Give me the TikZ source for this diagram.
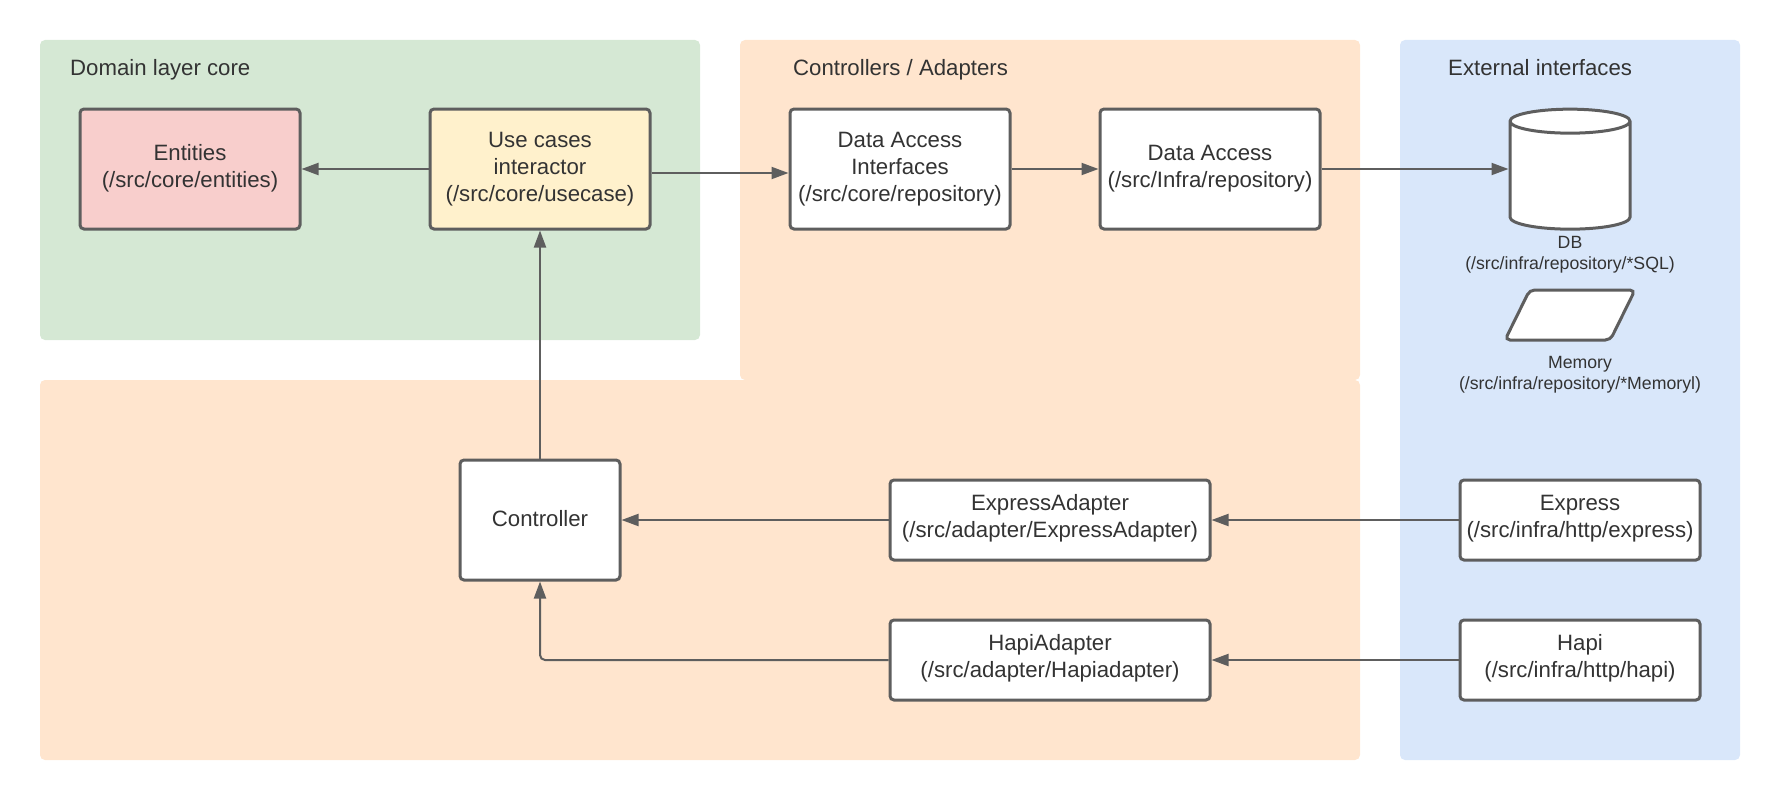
\documentclass[tikz,border=0pt]{standalone}
\usepackage{fontspec}
\setmainfont{Liberation Sans}
\usepackage{tikz}
\usetikzlibrary{arrows.meta,positioning,shapes.geometric}

\definecolor{panelgreen}{HTML}{D5E8D4}
\definecolor{panelorange}{HTML}{FFE5CE}
\definecolor{panelblue}{HTML}{D9E7FA}
\definecolor{entitypink}{HTML}{F8CECC}
\definecolor{caseyellow}{HTML}{FFF1CC}
\definecolor{linegray}{HTML}{5E5E5E}
\definecolor{textgray}{HTML}{333333}

\tikzset{
	panel/.style={shape=rectangle,rounded corners=5pt,inner sep=0pt},
	paneltitle/.style={anchor=base west,inner sep=0pt,text=textgray,font=\fontsize{22.2}{27}\selectfont},
	box/.style={shape=rectangle,draw=linegray,line width=3pt,rounded corners=4pt,fill=white,inner sep=0pt,align=center,text=textgray,text depth=8pt,font=\fontsize{22.2}{27}\selectfont},
	smalltext/.style={inner sep=0pt,align=center,text=textgray,font=\fontsize{17.7}{21}\selectfont},
	flow/.style={draw=linegray,line width=2pt,-{Triangle[length=17pt,width=12pt]}}
}

\begin{document}
\begin{tikzpicture}[x=1pt,y=-1pt]
	\useasboundingbox (0,0) rectangle (1780,800);
	% layers
	\path (370,190) node (domain) [panel,fill=panelgreen,minimum width=660pt,minimum height=300pt] {}
		  (1050,210) node (controllers) [panel,fill=panelorange,minimum width=620pt,minimum height=340pt] {}
		  (700,570) node (adapters) [panel,fill=panelorange,minimum width=1320pt,minimum height=380pt] {}
		  (1570,400) node (external) [panel,fill=panelblue,minimum width=340pt,minimum height=720pt] {};
	\path (70,75) node (domaintitle) [paneltitle] {Domain layer core}
		  (793,75) node (controllerstitle) [paneltitle] {Controllers / Adapters}
		  (1448,75) node (externaltitle) [paneltitle] {External interfaces};
	% boxes
	\path (190,169) node (entities) [box,text depth=6pt,fill=entitypink,minimum width=220pt,minimum height=120pt] {Entities\\(/src/core/entities)}
		  (540,169) node (usecases) [box,text depth=4pt,fill=caseyellow,minimum width=220pt,minimum height=120pt] {Use cases\\interactor\\(/src/core/usecase)}
		  (900,169) node (dainterfaces) [box,text depth=4pt,minimum width=220pt,minimum height=120pt] {Data Access\\Interfaces\\(/src/core/repository)}
		  (1210,169) node (daccess) [box,text depth=6pt,minimum width=220pt,minimum height=120pt] {Data Access\\(/src/Infra/repository)}
		  (540,520) node (controller) [box,text depth=4pt,minimum width=160pt,minimum height=120pt] {Controller}
		  (1050,520) node (expressadapter) [box,minimum width=320pt,minimum height=80pt] {ExpressAdapter\\(/src/adapter/ExpressAdapter)}
		  (1050,660) node (hapiadapter) [box,minimum width=320pt,minimum height=80pt] {HapiAdapter\\(/src/adapter/Hapiadapter)}
		  (1580,520) node (express) [box,minimum width=240pt,minimum height=80pt] {Express\\(/src/infra/http/express)}
		  (1580,660) node (hapi) [box,minimum width=240pt,minimum height=80pt] {Hapi\\(/src/infra/http/hapi)};
	% stores
	\path (1570,177) node (db) [shape=cylinder,shape border rotate=90,aspect=12,draw=linegray,line width=3pt,fill=white,inner sep=1pt,minimum width=120pt,minimum height=120pt] {}
		  (1570,255) node (dblabel) [smalltext] {DB\\(/src/infra/repository/*SQL)}
		  (1570,315) node (memory) [shape=trapezium,trapezium left angle=73,trapezium right angle=107,trapezium stretches=true,draw=linegray,line width=3pt,rounded corners=5pt,fill=white,inner sep=1pt,minimum width=130pt,minimum height=50pt] {}
		  (1580,375) node (memorylabel) [smalltext] {Memory\\(/src/infra/repository/*Memoryl)};
	% connectors
	\draw [flow] (usecases) -- (entities);
	\draw [flow] ([yshift=-4pt]usecases.east) -- ([yshift=-4pt]dainterfaces.west);
	\draw [flow] (dainterfaces) -- (daccess);
	\draw [flow] (daccess.east) -- (daccess.east -| db.west);
	\draw [flow] (controller) -- (usecases);
	\draw [flow] (expressadapter) -- (controller);
	\draw [flow] (express) -- (expressadapter);
	\draw [flow] (hapi) -- (hapiadapter);
	\draw [flow,rounded corners=5pt] (hapiadapter.west) -| (controller.south);
\end{tikzpicture}
\end{document}
